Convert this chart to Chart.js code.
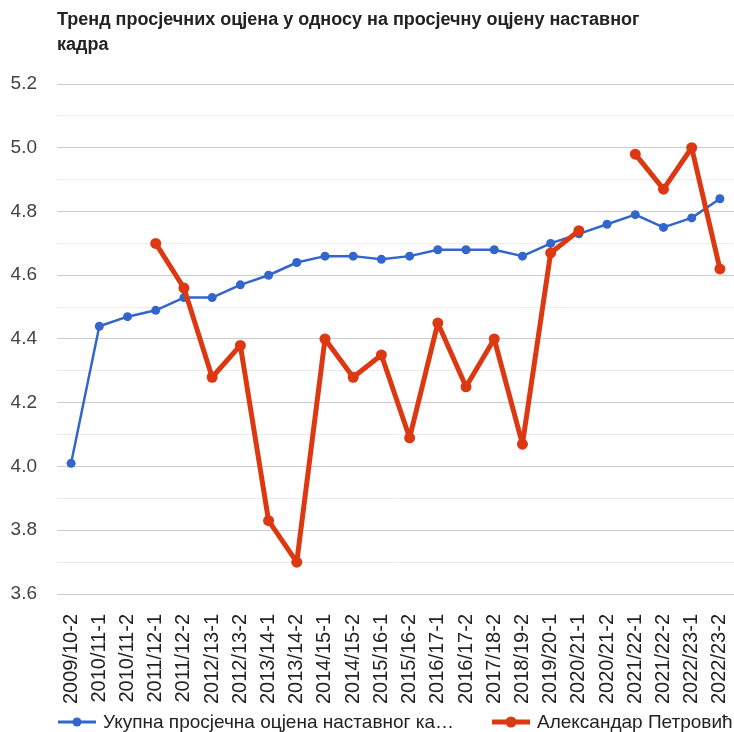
<!DOCTYPE html>
<html>
<head>
<meta charset="utf-8">
<script src="https://cdn.jsdelivr.net/npm/chart.js@4.4.1/dist/chart.umd.min.js"></script>
<style>
  body { margin: 0; background: #fff; font-family: "Liberation Sans", Arial, sans-serif; overflow: hidden; }
  #wrap { position: relative; width: 734px; height: 732px; }
  #chart { position: absolute; left: 0; top: 0; }
  #title { position: absolute; left: 57px; top: 7px; width: 610px; font-weight: bold; font-size: 18px; line-height: 25px; color: #222; }
  .leg { position: absolute; top: 710px; height: 24px; display: flex; align-items: center; font-size: 19px; color: #222; white-space: nowrap; }
  .icon { position: relative; width: 38px; height: 12px; margin-right: 7px; }
  .icon .ln { position: absolute; left: 0; right: 0; top: 50%; transform: translateY(-50%); }
  .icon .dot { position: absolute; left: 50%; top: 50%; transform: translate(-50%, -50%); border-radius: 50%; }
</style>
</head>
<body>
<div id="wrap">
  <canvas id="chart" width="734" height="732"></canvas>
  <div id="title">Тренд просјечних оцјена у односу на просјечну оцјену наставног кадра</div>
  <div class="leg" style="left:58px">
    <span class="icon"><span class="ln" style="height:3px;background:#3366cc"></span><span class="dot" style="width:9px;height:9px;background:#3366cc"></span></span>
    <span>Укупна просјечна оцјена наставног ка…</span>
  </div>
  <div class="leg" style="left:492px">
    <span class="icon"><span class="ln" style="height:5px;background:#dc3912"></span><span class="dot" style="width:11px;height:11px;background:#dc3912"></span></span>
    <span>Александар Петровић</span>
  </div>
</div>
<script>
const semesters = ['2009/10-2', '2010/11-1', '2010/11-2', '2011/12-1', '2011/12-2', '2012/13-1',
  '2012/13-2', '2013/14-1', '2013/14-2', '2014/15-1', '2014/15-2', '2015/16-1', '2015/16-2',
  '2016/17-1', '2016/17-2', '2017/18-2', '2018/19-2', '2019/20-1', '2020/21-1', '2020/21-2',
  '2021/22-1', '2021/22-2', '2022/23-1', '2022/23-2'];

const staffAverage = [4.01, 4.44, 4.47, 4.49, 4.53, 4.53, 4.57, 4.60, 4.64, 4.66, 4.66, 4.65,
  4.66, 4.68, 4.68, 4.68, 4.66, 4.70, 4.73, 4.76, 4.79, 4.75, 4.78, 4.84];

const teacherAverage = [null, null, null, 4.70, 4.56, 4.28, 4.38, 3.83, 3.70, 4.40, 4.28, 4.35,
  4.09, 4.45, 4.25, 4.40, 4.07, 4.67, 4.74, null, 4.98, 4.87, 5.00, 4.62];

const seriesNames = ['Укупна просјечна оцјена наставног кадра', 'Александар Петровић'];

const yMin = 3.6;
const yMax = 5.2;

const isMajor = (v) => Math.round(v * 10) % 2 === 0;

const ctx = document.getElementById('chart').getContext('2d');

new Chart(ctx, {
  type: 'line',
  data: {
    labels: semesters,
    datasets: [
      {
        label: seriesNames[0],
        data: staffAverage,
        borderColor: '#3366cc',
        backgroundColor: '#3366cc',
        borderWidth: 2.5,
        pointRadius: 4.5,
        pointBorderWidth: 0,
        pointHoverRadius: 4.5,
        borderJoinStyle: 'round',
        tension: 0,
        order: 1,
      },
      {
        label: seriesNames[1],
        data: teacherAverage,
        borderColor: '#dc3912',
        backgroundColor: '#dc3912',
        borderWidth: 5,
        pointRadius: 5.5,
        pointBorderWidth: 0,
        pointHoverRadius: 5.5,
        borderJoinStyle: 'round',
        borderCapStyle: 'round',
        spanGaps: false,
        tension: 0,
        order: 0,
      },
    ],
  },
  options: {
    responsive: false,
    animation: false,
    layout: {
      autoPadding: false,
      padding: { top: 84, left: 0, right: 0, bottom: 26 },
    },
    plugins: {
      legend: { display: false },
      title: { display: false },
      tooltip: { enabled: false },
    },
    scales: {
      x: {
        offset: true,
        grid: { display: false, drawTicks: false },
        border: { display: false },
        afterFit: (scale) => {
          scale.height = 112;
          scale.paddingLeft = 0;
          scale.paddingRight = 0;
        },
        ticks: {
          autoSkip: false,
          minRotation: 90,
          maxRotation: 90,
          padding: 20,
          color: '#222',
          font: { family: '"Liberation Sans", Arial, sans-serif', size: 20 },
        },
      },
      y: {
        min: yMin,
        max: yMax,
        afterFit: (scale) => { scale.width = 57; },
        border: { display: false },
        grid: {
          drawTicks: false,
          color: (c) => (isMajor(c.tick.value) ? '#cccccc' : '#ebebeb'),
          lineWidth: 1,
        },
        ticks: {
          stepSize: 0.1,
          padding: 20,
          color: '#444',
          font: { family: '"Liberation Sans", Arial, sans-serif', size: 19 },
          callback: (v) => (isMajor(v) ? Number(v).toFixed(1) : ''),
        },
      },
    },
  },
});
</script>
</body>
</html>
